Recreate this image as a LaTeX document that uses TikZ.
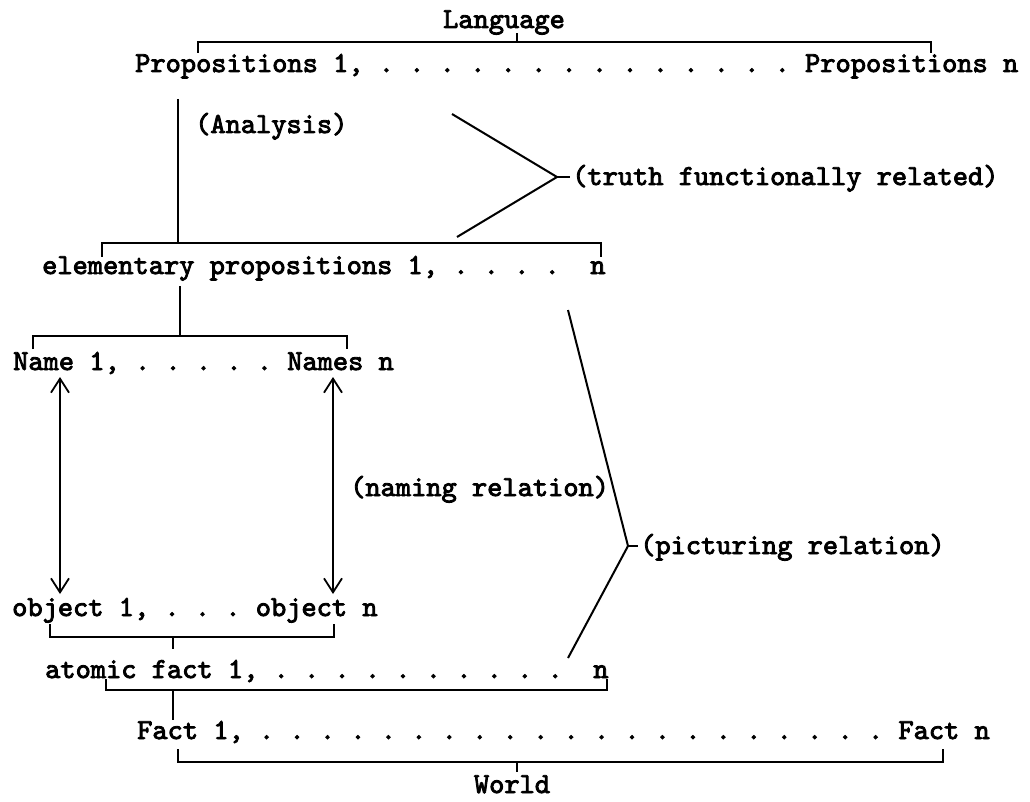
\documentclass[tikz,border=0pt]{standalone}
\usepackage{fontspec}
\usetikzlibrary{arrows.meta}
\newfontfamily\tw{lmmono10-regular.otf}[FakeBold=3]
\begin{document}
\frenchspacing
\begin{tikzpicture}[x=1pt,y=-1pt,
  txt/.style={font=\tw\fontsize{29}{34}\selectfont\frenchspacing, inner sep=0pt, anchor=base west},
  link/.style={line width=2pt, line cap=butt},
  dbl/.style={line width=1.8pt, {Straight Barb[length=14pt,width=18pt]}-{Straight Barb[length=14pt,width=18pt]}}]
\useasboundingbox (0,0) rectangle (1030,802);
% texts
\node[txt, anchor=base] (lang) at (504,28) {Language};
\node[txt] (props) at (135,72) {Propositions 1, . . . . . . . . . . . . . . Propositions n};
\node[txt] (analysis) at (195,133) {(Analysis)};
\node[txt] (truth) at (572,185) {(truth functionally related)};
\node[txt] (elem) at (42,274) {elementary propositions 1, . . . .~~n};
\node[txt] (names) at (13,370) {Name 1, . . . . . Names n};
\node[txt] (naming) at (350,496) {(naming relation)};
\node[txt] (picturing) at (640,554) {(picturing relation)};
\node[txt] (objects) at (12,616) {object 1, . . . object n};
\node[txt] (atomic) at (45,678) {atomic fact 1, . . . . . . . . . .~~n};
\node[txt] (facts) at (137,739) {Fact 1, . . . . . . . . . . . . . . . . . . . . . Fact n};
\node[txt, anchor=base] (world) at (512,793) {World};
% Language bracket
\coordinate (lgL) at (198,53); \coordinate (lgR) at (931,53);
\coordinate (lgC) at (517,42); \coordinate (lgT) at (517,33);
\draw[link] (lgL) |- (lgC) -| (lgR);
\draw[link] (lgC) -- (lgT);
% Analysis
\coordinate (anT) at (178,99); \coordinate (anB) at (178,243);
\draw[link] (anT) -- (anB);
% elementary bracket
\coordinate (elL) at (102,257); \coordinate (elR) at (601,257);
\draw[link] (elL) |- (anB) -| (elR);
% truth functionally related
\coordinate (tfA) at (452,114); \coordinate (tfV) at (557,177);
\coordinate (tfB) at (457,237); \coordinate (tfE) at (570,177);
\draw[link] (tfA) -- (tfV) -- (tfB);
\draw[link] (tfV) -- (tfE);
% elementary -> names
\coordinate (enT) at (180,286); \coordinate (enB) at (180,336);
\draw[link] (enT) -- (enB);
\coordinate (nmL) at (33,349); \coordinate (nmR) at (347,349);
\draw[link] (nmL) |- (enB) -| (nmR);
% naming arrows
\coordinate (a1T) at (60,377); \coordinate (a1B) at (60,594);
\coordinate (a2T) at (333,377); \coordinate (a2B) at (333,594);
\draw[dbl] (a1T) -- (a1B);
\draw[dbl] (a2T) -- (a2B);
% picturing relation
\coordinate (prA) at (568,310); \coordinate (prV) at (628,546);
\coordinate (prB) at (568,658); \coordinate (prE) at (638,546);
\draw[link] (prA) -- (prV) -- (prB);
\draw[link] (prV) -- (prE);
% object bracket
\coordinate (obL) at (50,624); \coordinate (obR) at (334,624);
\coordinate (obC) at (173,637); \coordinate (obS) at (173,649);
\draw[link] (obL) |- (obC) -| (obR);
\draw[link] (obC) -- (obS);
% atomic bracket
\coordinate (atL) at (106,679); \coordinate (atR) at (607,679);
\coordinate (atC) at (173,690); \coordinate (atS) at (173,720);
\draw[link] (atL) |- (atC) -| (atR);
\draw[link] (atC) -- (atS);
% world bracket
\coordinate (wdL) at (178,749); \coordinate (wdR) at (943,749);
\coordinate (wdC) at (517,762); \coordinate (wdS) at (517,772);
\draw[link] (wdL) |- (wdC) -| (wdR);
\draw[link] (wdC) -- (wdS);
\end{tikzpicture}
\end{document}
